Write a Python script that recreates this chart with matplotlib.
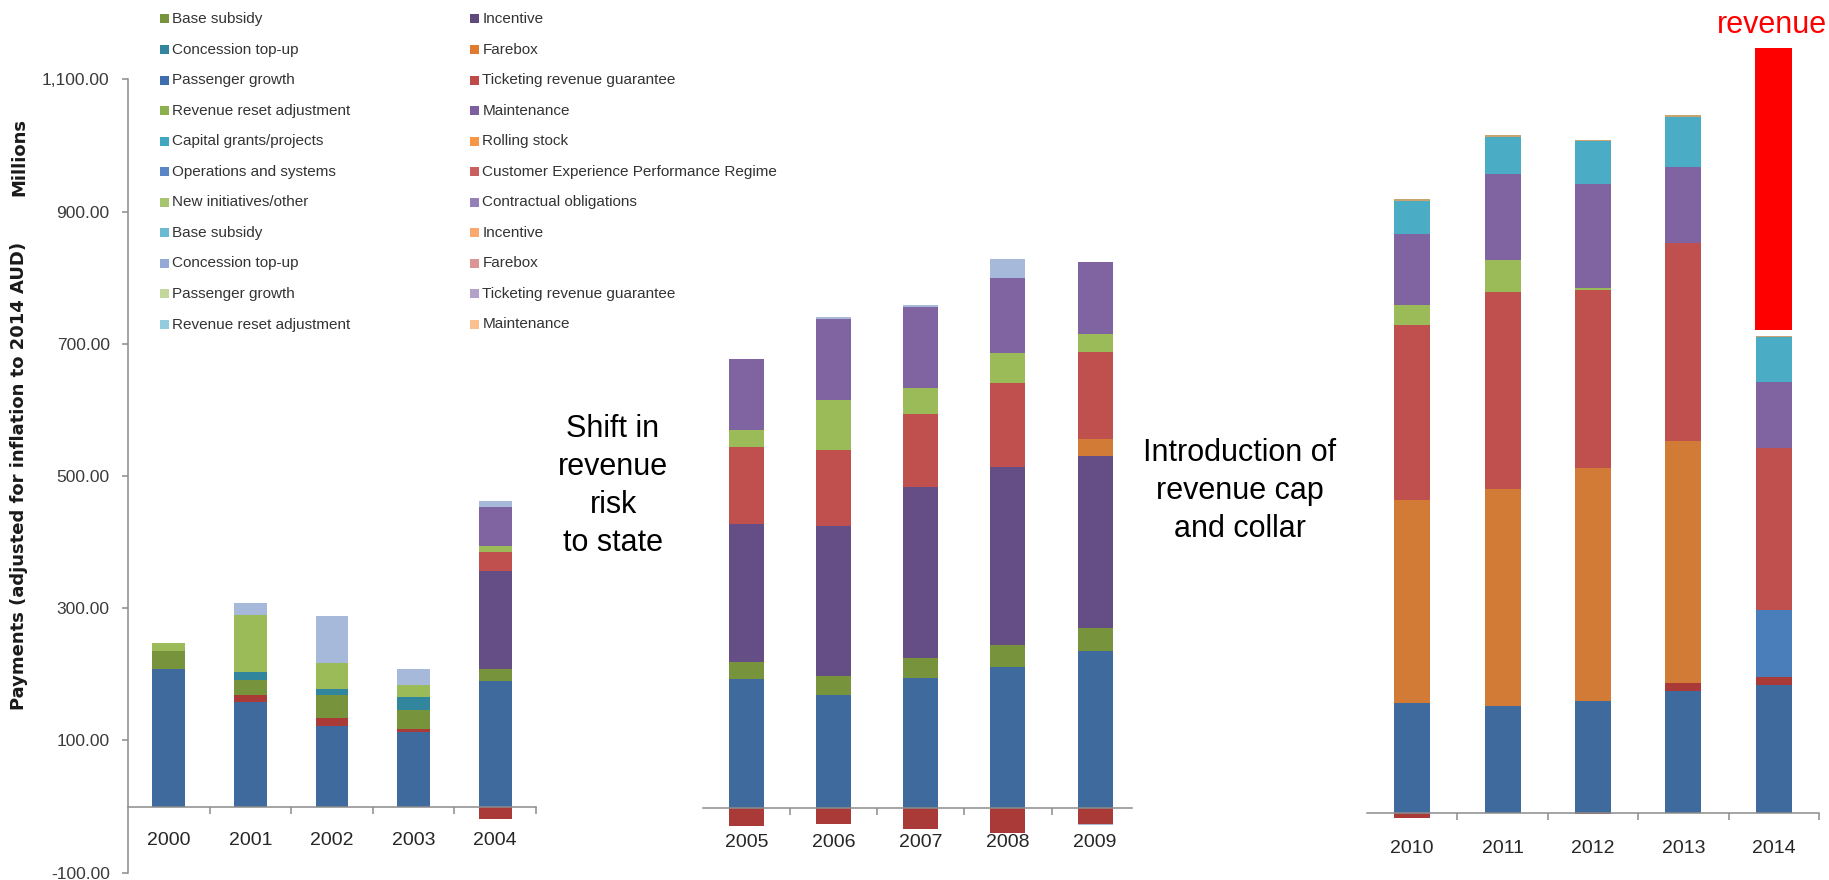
import matplotlib
matplotlib.use("Agg")
import matplotlib.pyplot as plt
from matplotlib.patches import Rectangle
import numpy as np

plt.rcParams['font.family'] = ['Liberation Sans', 'DejaVu Sans']

# ---------------- data (millions AUD, 2014 prices) ----------------
years = ['2000', '2001', '2002', '2003', '2004',
         '2005', '2006', '2007', '2008', '2009',
         '2010', '2011', '2012', '2013', '2014']

# positive stacked components, bottom -> top
passenger_base = [208.1, 157.6, 122.3, 113.4, 189.9,
                  194.5, 170.8, 197.0, 213.4, 237.7,
                  166.4, 162.1, 168.9, 185.1, 193.5]
ticketing_small = [0, 10.4, 12.0, 3.6, 0,
                   0, 0, 0, 0, 0,
                   0, 0, 0, 11.9, 12.7]
operations = [0, 0, 0, 0, 0,
              0, 0, 0, 0, 0,
              0, 0, 0, 0, 100.2]
base_subsidy = [26.5, 23.4, 33.8, 28.6, 18.2,
                26.2, 28.6, 30.4, 32.8, 34.6,
                0, 0, 0, 0, 0]
concession = [0, 11.5, 9.4, 19.8, 0,
              0, 0, 0, 0, 0,
              0, 0, 0, 0, 0]
incentive = [0, 0, 0, 0, 148.3,
             209.7, 226.7, 257.7, 269.3, 260.2,
             0, 0, 0, 0, 0]
farebox = [0, 0, 0, 0, 0,
           0, 0, 0, 0, 26.2,
           307.3, 328.6, 352.3, 365.9, 0]
revenue_guarantee = [0, 0, 0, 0, 29.1,
                     115.5, 115.5, 111.3, 127.7, 131.9,
                     264.8, 297.9, 270.0, 299.7, 246.2]
new_initiatives = [13.0, 86.4, 40.1, 18.2, 8.9,
                   26.1, 75.4, 39.5, 45.6, 26.7,
                   30.6, 47.6, 2.5, 0, 0]
maintenance = [0, 0, 0, 0, 58.8,
               107.6, 123.4, 121.5, 113.6, 108.2,
               106.1, 129.8, 157.9, 114.6, 99.3]
capital_grants = [0, 0, 0, 0, 0,
                  0, 0, 0, 0, 0,
                  50.9, 56.9, 65.4, 76.4, 67.9]
concession_light = [0, 19.3, 70.2, 24.4, 8.8,
                    0, 2.4, 4.3, 28.0, 0,
                    0, 0, 0, 0, 0]
rolling_stock = [0, 0, 0, 0, 0,
                 0, 0, 0, 0, 0,
                 2.6, 2.6, 1.7, 2.5, 2.5]

# negative components, top -> bottom
abatement_neg = [0, 0, 0, 0, -18.5,
                 -26.7, -24.3, -31.6, -37.7, -24.3,
                 -7.6, 0, -2.0, 0, 0]
farebox_neg = [-1.2, -1.2, 0, 0, 0,
               0, 0, 0, 0, 0,
               0, 0, 0, 0, 0]
concession_light_neg = [0, 0, 0, 0, 0,
                        0, 0, 0, 0, -1.5,
                        0, 0, 0, 0, 0]

# highlighted revenue band above 2014 (bottom, top)
cap_collar_range = [730.7, 1157.0]

# legend (as shown, two columns read row-wise)
legend_left = ['Base subsidy', 'Concession top-up', 'Passenger growth', 'Revenue reset adjustment',
               'Capital grants/projects', 'Operations and systems', 'New initiatives/other',
               'Base subsidy', 'Concession top-up', 'Passenger growth', 'Revenue reset adjustment']
legend_left_colors = ['#77933C', '#31859C', '#3D6DAB', '#8CB04C', '#41A6C0', '#5B86C5',
                      '#A7C56F', '#6CBAD0', '#94A9D5', '#C3D69B', '#93CDDD']
legend_right = ['Incentive', 'Farebox', 'Ticketing revenue guarantee', 'Maintenance',
                'Rolling stock', 'Customer Experience Performance Regime', 'Contractual obligations',
                'Incentive', 'Farebox', 'Ticketing revenue guarantee', 'Maintenance']
legend_right_colors = ['#604A7B', '#E07A2E', '#BE4B48', '#7D5FA0', '#F79646', '#C9605D',
                       '#9580B8', '#F9A86E', '#D99694', '#B3A2C7', '#FAC090']

positive_series = [
    (passenger_base, '#3E6A9D'),
    (ticketing_small, '#A93A37'),
    (operations, '#4A7EBB'),
    (base_subsidy, '#77933C'),
    (concession, '#31859C'),
    (incentive, '#654E86'),
    (farebox, '#D27B37'),
    (revenue_guarantee, '#C0504D'),
    (new_initiatives, '#9BBB59'),
    (maintenance, '#8064A2'),
    (capital_grants, '#4BACC6'),
    (concession_light, '#A7B9DA'),
    (rolling_stock, '#C8A46E'),
]
negative_series = [
    (abatement_neg, '#A93A37'),
    (farebox_neg, '#E79A86'),
    (concession_light_neg, '#A7B9DA'),
]

# ---------------- layout ----------------
W, H = 1829, 880
fig = plt.figure(figsize=(W / 100, H / 100), dpi=100)
fig.patch.set_facecolor('white')


def px_rect(x0, x1, ytop, ybot):
    return [x0 / W, 1 - ybot / H, (x1 - x0) / W, (ybot - ytop) / H]


panels = [
    dict(rect=px_rect(128, 536, 79.4, 872.6), ylim=(-100, 1100), sl=slice(0, 5),
         yaxis=True, minor=[0.5, 1.5, 2.5, 3.5, 4.5], bounds=None, pad=18.0),
    dict(rect=px_rect(702.7, 1138.7, 80.9, 874.1), ylim=(-100, 1100), sl=slice(5, 10),
         yaxis=False, minor=[0.5, 1.5, 2.5, 3.5], bounds=(-0.5, 4.42), pad=18.7),
    dict(rect=px_rect(1367, 1819, 19.8, 879.1), ylim=(-100, 1200), sl=slice(10, 15),
         yaxis=False, minor=[0.5, 1.5, 2.5, 3.5, 4.5], bounds=None, pad=19.2),
]

grey = '#8C8C8C'
axes = []
for p in panels:
    ax = fig.add_axes(p['rect'])
    ax.set_facecolor('none')
    sl = p['sl']
    labels = years[sl]
    x = np.arange(len(labels))
    bottom = np.zeros(len(labels))
    for vals, col in positive_series:
        v = np.array(vals[sl], dtype=float)
        ax.bar(x, v, width=0.4, bottom=bottom, color=col, linewidth=0)
        bottom += v
    nb = np.zeros(len(labels))
    for vals, col in negative_series:
        v = np.array(vals[sl], dtype=float)
        ax.bar(x, v, width=0.4, bottom=nb, color=col, linewidth=0)
        nb += v
    ax.set_xlim(-0.5, 4.5)
    ax.set_ylim(*p['ylim'])
    for s in ['top', 'right']:
        ax.spines[s].set_visible(False)
    ax.spines['bottom'].set_position(('data', 0))
    ax.spines['bottom'].set_color(grey)
    ax.spines['bottom'].set_linewidth(1.1)
    if p['bounds'] is not None:
        ax.spines['bottom'].set_bounds(*p['bounds'])
    ax.set_xticks(x)
    ax.set_xticklabels(labels)
    ax.set_xticks(p['minor'], minor=True)
    ax.tick_params(axis='x', which='major', length=0, pad=p['pad'],
                   labelsize=14, labelcolor='#262626')
    ax.tick_params(axis='x', which='minor', length=5, width=1.1, color=grey, direction='out')
    if p['yaxis']:
        ax.spines['left'].set_color(grey)
        ax.spines['left'].set_linewidth(1.1)
        yt = [-100, 100, 300, 500, 700, 900, 1100]
        ax.set_yticks(yt)
        ax.set_yticklabels(['{:,.2f}'.format(v) for v in yt])
        ax.tick_params(axis='y', length=4.1, width=1.1, color=grey, pad=9.1,
                       labelsize=12.5, labelcolor='#3A3A3A')
    else:
        ax.spines['left'].set_visible(False)
        ax.set_yticks([])
    axes.append(ax)

# highlighted band on the 2014 column
ax_c = axes[2]
ax_c.bar(4, cap_collar_range[1] - cap_collar_range[0], bottom=cap_collar_range[0],
         width=0.41, color='#FF0000', linewidth=0)

# ---------------- overlay: legend, titles, annotations ----------------
ov = fig.add_axes([0, 0, 1, 1])
ov.set_xlim(0, W)
ov.set_ylim(H, 0)
ov.axis('off')

row0, row_step = 19.0, 30.55
for col_names, col_colors, px, tx in [(legend_left, legend_left_colors, 160, 172),
                                      (legend_right, legend_right_colors, 470, 482.5)]:
    for i, (name, c) in enumerate(zip(col_names, col_colors)):
        y = row0 + row_step * i
        ov.add_patch(Rectangle((px, y - 4.5), 8.5, 9, facecolor=c, edgecolor='none'))
        ov.text(tx, y, name, fontsize=11, color='#333333', va='center', ha='left')

ov.text(19, 476, 'Payments (adjusted for inflation to 2014 AUD)', rotation=90,
        ha='center', va='center', family='DejaVu Sans', fontweight='bold',
        fontsize=13, color='#1A1A1A')
ov.text(19, 157, 'Millions', rotation=90, ha='center', va='center',
        family='DejaVu Sans', fontweight='bold', fontsize=13, color='#1A1A1A')

shift_lines = ['Shift in', 'revenue', 'risk', 'to state']
for i, t in enumerate(shift_lines):
    ov.text(613, 437 + 38 * i, t, ha='center', va='baseline',
            fontsize=22, color='black')

intro_lines = ['Introduction of', 'revenue cap', 'and collar']
for i, t in enumerate(intro_lines):
    ov.text(1240, 461 + 38 * i, t, ha='center', va='baseline',
            fontsize=22, color='black')

ov.text(1772, 33, 'revenue', ha='center', va='baseline',
        fontsize=22, color='#FF0000')

fig.savefig('out.png', dpi=100, facecolor='white')
